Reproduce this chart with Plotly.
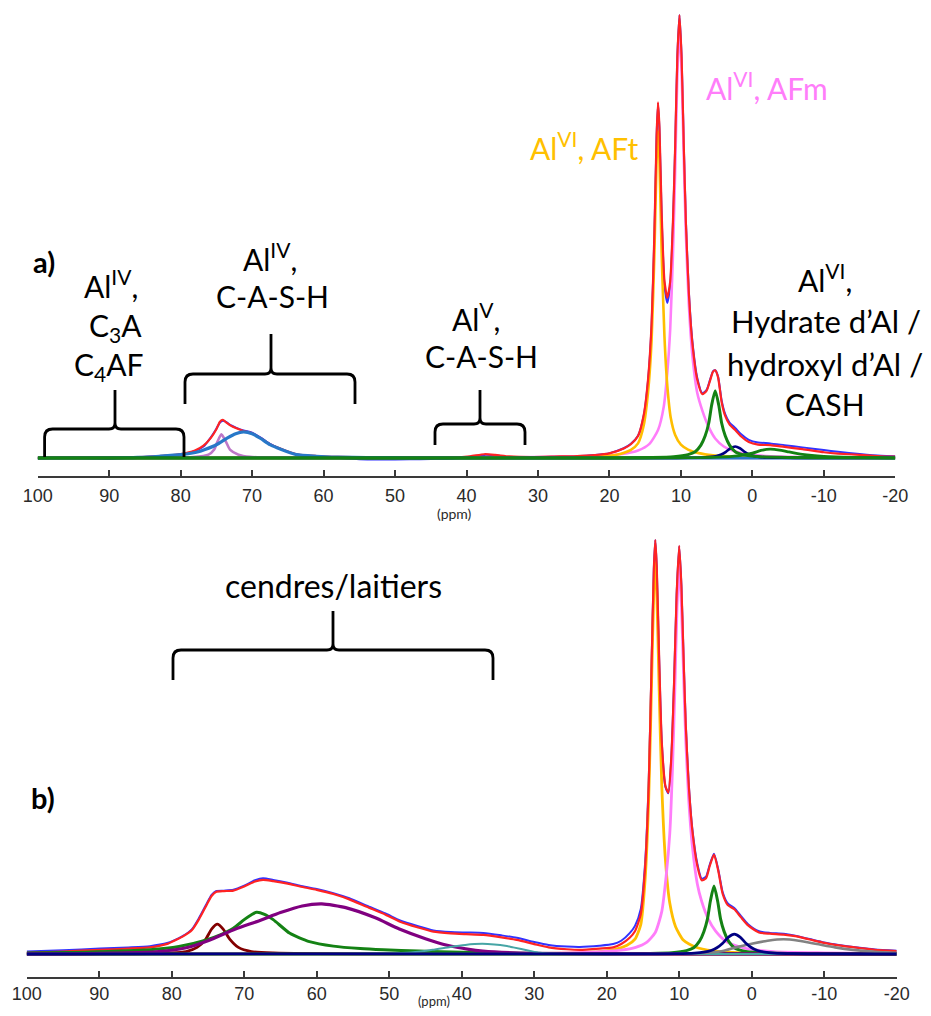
import plotly.graph_objects as go

# ---------------- Panel a) data (ppm, intensity) ----------------
A_RED_PPM = [100, 90, 86, 83, 80, 78, 76.8, 75.8, 75.0, 74.5, 74.1, 73.6, 73.0, 72.2, 71.2, 70, 68.8, 67.5, 65.9, 63.8, 61, 58, 54, 48, 42, 39.5, 37.5, 36, 34, 31, 27, 25, 22, 20, 18, 17, 16, 15.2, 14.6, 14.1, 13.7, 13.4, 13.2, 13.0, 12.7, 12.3, 11.9, 11.5, 11.1, 10.8, 10.5, 10.2, 9.9, 9.6, 9.3, 8.9, 8.4, 7.7, 7.0, 6.4, 5.9, 5.5, 5.2, 4.8, 4.3, 3.8, 3.2, 2.4, 1.6, 0.5, -0.8, -2.5, -4.5, -7, -10, -12, -15, -18, -20]
A_RED_INT = [0.1, 0.15, 0.2, 0.45, 0.9, 1.7, 2.8, 4.5, 6.5, 8.2, 8.6, 8.0, 7.3, 6.7, 6.1, 5.6, 4.5, 3.1, 2.0, 0.85, 0.45, 0.25, 0.15, 0.1, 0.15, 0.4, 0.85, 0.7, 0.35, 0.2, 0.35, 0.4, 0.65, 1.05, 2.15, 3.1, 4.95, 9.7, 17.7, 30.3, 51.3, 72.9, 80.3, 74.6, 55.8, 40.0, 36.2, 39.8, 53.9, 70.5, 90.4, 100, 90.3, 70.7, 53.1, 37.6, 26.0, 17.6, 14.4, 15.2, 17.6, 19.5, 19.8, 18.2, 12.6, 9.5, 7.6, 6.3, 4.9, 3.6, 3.0, 2.9, 2.5, 2.0, 1.3, 1.0, 0.7, 0.4, 0.3]

A_EXP_PPM = [100, 95, 90, 86, 83, 80, 78, 76.8, 75.8, 75.0, 74.5, 74.1, 73.6, 73.0, 72.2, 71.2, 70, 68.8, 67.5, 65.9, 63.8, 61, 58, 55, 52, 48, 45, 42, 39.5, 37.5, 36, 34, 31, 27, 25, 22, 20, 18, 17, 16, 15.2, 14.6, 14.1, 13.7, 13.4, 13.2, 13.0, 12.7, 12.3, 11.9, 11.5, 11.1, 10.8, 10.5, 10.2, 9.9, 9.6, 9.3, 8.9, 8.4, 7.7, 7.0, 6.4, 5.9, 5.5, 5.2, 4.8, 4.3, 3.8, 3.2, 2.4, 1.6, 0.5, -0.8, -2.5, -4.5, -7, -10, -12, -15, -18, -20]
A_EXP_INT = [-0.1, 0.1, -0.2, 0.2, 0.4, 0.8, 1.6, 2.6, 4.6, 6.6, 8.0, 8.4, 8.1, 7.4, 6.8, 6.2, 5.7, 4.6, 3.2, 2.0, 0.8, 0.35, 0.0, -0.3, -0.35, -0.3, -0.2, -0.1, 0.3, 0.7, 0.6, 0.2, 0.1, 0.3, 0.4, 0.7, 1.1, 2.2, 3.2, 5.0, 9.6, 17.5, 30, 51, 72.5, 80, 74, 55, 39, 35, 39, 53.5, 70.5, 90.5, 100, 90.5, 71, 53.5, 38, 26.5, 18, 14.6, 15.4, 17.8, 19.6, 19.8, 18.4, 13, 9.9, 8.0, 6.8, 5.4, 4.1, 3.5, 3.3, 2.9, 2.4, 1.8, 1.4, 0.9, 0.5, 0.4]

A_AFM_PPM = [100, 40, 25, 22.2, 18.2, 16.0, 14.4, 13.2, 12.4, 11.9, 11.5, 11.1, 10.8, 10.5, 10.2, 9.9, 9.6, 9.3, 8.9, 8.4, 7.7, 7.0, 6.2, 5.2, 4.0, 2.5, 0.0, -4.0, -10.0, -20.0]
A_AFM_INT = [0, 0.1, 0.3, 0.4, 0.9, 1.7, 3.2, 6.3, 11.6, 19.4, 29, 46.6, 65, 86.3, 97, 87.3, 68, 50.4, 35, 23.3, 14.6, 10.7, 7.3, 4.4, 2.6, 1.5, 0.7, 0.3, 0.15, 0.05]

A_AFT_PPM = [100, 30, 22, 19, 17, 16, 15.2, 14.6, 14.1, 13.7, 13.4, 13.2, 13.0, 12.7, 12.3, 11.9, 11.4, 10.8, 10.0, 9.0, 7.5, 5.5, 2, -10, -20]
A_AFT_INT = [0, 0.05, 0.26, 0.74, 1.85, 3.3, 7.4, 14.8, 26.6, 46.6, 67.3, 74, 67.3, 46.6, 27.4, 16.3, 8.9, 5.2, 3.0, 1.9, 1.1, 0.6, 0.26, 0.05, 0]

A_OH_PPM = [100, 20, 14, 11, 9, 8, 7.2, 6.6, 6.1, 5.7, 5.2, 4.7, 4.3, 3.8, 3.2, 2.4, 1.2, -1, -5, -12, -20]
A_OH_INT = [0, 0.02, 0.12, 0.3, 0.76, 1.4, 2.9, 5.0, 7.9, 11.9, 15.2, 11.9, 7.9, 5.0, 2.9, 1.4, 0.7, 0.3, 0.12, 0.04, 0]

A_NAVY_PPM = [100, 15, 12.4, 8.9, 6.9, 5.8, 5.0, 4.35, 3.7, 3.05, 2.4, 1.75, 1.1, 0.45, -0.2, -1.0, -2.1, -4.1, -7.6, -20]
A_NAVY_INT = [0, 0.01, 0.02, 0.05, 0.12, 0.25, 0.46, 0.8, 1.4, 2.2, 2.6, 2.2, 1.4, 0.8, 0.46, 0.25, 0.12, 0.05, 0.02, 0]

A_G2_PPM = [100, 15, 5, 2, 0, -1.2, -2.5, -3.8, -5, -7, -10, -14, -20]
A_G2_INT = [0, 0, 0.2, 0.5, 1.1, 1.7, 2.0, 1.8, 1.4, 0.8, 0.35, 0.12, 0.04]

A_CASH_PPM = [100, 90, 86, 83, 80, 77.5, 76.6, 75, 73.5, 72.3, 71.2, 70, 68.8, 67.5, 65.9, 63.8, 61, 58, 54, 48, 40, -20]
A_CASH_INT = [0, 0.05, 0.15, 0.4, 0.75, 1.4, 1.9, 3.0, 4.5, 5.5, 5.9, 5.5, 4.4, 3.0, 1.9, 0.75, 0.4, 0.2, 0.1, 0.04, 0, 0]

A_C3A_PPM = [100, 82, 78.2, 76.1, 75.3, 74.9, 74.3, 73.7, 73.1, 71.9, 70.3, 67, 60, -20]
A_C3A_INT = [0, 0.05, 0.2, 0.75, 1.9, 3.5, 5.35, 3.8, 1.9, 0.75, 0.25, 0.08, 0.02, 0]

# ---------------- Panel b) data (ppm, intensity) ----------------
B_RED_PPM = [100, 95, 89.9, 86, 83, 80.5, 79.9, 78.5, 77.2, 76.2, 75.2, 74.5, 73.9, 72.8, 71.5, 70, 68.5, 67.4, 66, 64, 62.3, 60, 57.7, 55.5, 53.1, 50.5, 48.5, 46, 43.9, 41.5, 39.4, 37, 34.5, 32.4, 30, 28, 25.5, 23.7, 21, 19.1, 18, 16.8, 16.1, 15.3, 14.7, 14.2, 13.8, 13.5, 13.3, 13.1, 12.8, 12.4, 11.9, 11.5, 11.1, 10.7, 10.35, 10.0, 9.7, 9.4, 9.1, 8.7, 8.2, 7.5, 6.9, 6.3, 5.8, 5.2, 4.6, 4.0, 3.3, 2.4, 1.5, 0.5, -1, -2.5, -4.4, -6, -8, -10, -12, -14.9, -17, -20]
B_RED_INT = [0.3, 0.6, 1.0, 1.3, 1.6, 2.5, 3.0, 4.2, 5.8, 8.5, 11.8, 14.0, 15.0, 15.2, 15.3, 16.3, 17.5, 17.9, 17.6, 17.0, 16.3, 15.5, 14.5, 13.2, 11.4, 9.5, 7.8, 6.4, 5.4, 5.0, 4.8, 4.6, 4.0, 3.4, 2.4, 1.6, 1.15, 1.0, 1.3, 1.6, 2.4, 4.0, 5.5, 9.6, 20.9, 41, 70.5, 92.8, 100, 93.6, 73.8, 51.1, 40.6, 39.0, 47.1, 65.9, 86.9, 98.6, 89, 71.7, 55.4, 41.2, 30, 21.3, 17.8, 18.3, 21.2, 24.0, 20.0, 14.5, 11.8, 10.8, 8.9, 6.9, 5.2, 4.9, 4.7, 4.3, 3.5, 2.7, 2.1, 1.45, 1.0, 0.7]

B_EXP_PPM = B_RED_PPM
B_EXP_INT = [0.6, 0.9, 1.3, 1.6, 1.9, 2.7, 3.1, 4.3, 6.0, 8.8, 12.1, 14.3, 15.2, 15.3, 15.5, 16.5, 17.8, 18.3, 17.9, 17.2, 16.5, 15.7, 14.7, 13.5, 11.7, 9.8, 8.1, 6.7, 5.7, 5.3, 5.2, 5.1, 4.5, 3.9, 2.9, 2.2, 1.8, 1.7, 2.0, 2.4, 3.2, 5.1, 6.8, 10.9, 22, 42, 71, 93, 100, 93.5, 73.5, 51, 40.4, 38.8, 47, 66, 87, 98.5, 89.2, 72, 55.8, 41.6, 30.4, 21.8, 18.2, 18.7, 21.5, 24.2, 20.3, 14.9, 12.2, 11.1, 9.2, 7.2, 5.5, 5.1, 4.9, 4.4, 3.6, 2.8, 2.2, 1.5, 1.1, 0.8]

B_AFT_PPM = [100, 30, 25.3, 21.3, 18.8, 17.2, 16.1, 15.3, 14.7, 14.2, 13.8, 13.5, 13.3, 13.1, 12.8, 12.4, 11.9, 11.3, 10.5, 9.4, 7.8, 5.3, 1.3, -10, -20]
B_AFT_INT = [0, 0.1, 0.2, 0.5, 1.1, 2.1, 3.6, 7.1, 18, 37.8, 66.2, 87.9, 94.5, 87.9, 66.2, 40.6, 22.7, 12.3, 6.6, 3.3, 1.7, 0.76, 0.28, 0.05, 0]

B_AFM_PPM = [100, 30, 22, 18, 16, 14.5, 13.3, 12.4, 11.8, 11.3, 10.9, 10.6, 10.3, 10.0, 9.7, 9.4, 9.1, 8.7, 8.2, 7.5, 6.9, 6.0, 5.0, 3.5, 1.0, -3, -10, -20]
B_AFM_INT = [0, 0.19, 0.47, 0.94, 1.6, 2.8, 5.2, 10.3, 18.8, 29.1, 46.1, 63.9, 83.7, 94, 84.6, 67.7, 51.7, 37.6, 26.3, 16.9, 12.7, 8.5, 5.6, 3.0, 1.4, 0.56, 0.28, 0.1]

B_OH_PPM = A_OH_PPM
B_OH_INT = [0, 0.02, 0.13, 0.32, 0.82, 1.5, 3.1, 5.4, 8.5, 12.8, 16.4, 12.8, 8.5, 5.4, 3.1, 1.5, 0.75, 0.32, 0.13, 0.04, 0]

B_NAVY_PPM = [100, 15, 10.4, 7.9, 6.6, 5.6, 4.8, 4.0, 3.2, 2.4, 1.6, 0.8, 0, -0.8, -1.8, -3.1, -5.6, -9.6, -20]
B_NAVY_INT = [0, 0.02, 0.08, 0.22, 0.45, 0.85, 1.5, 2.6, 4.1, 4.8, 4.1, 2.6, 1.5, 0.85, 0.45, 0.22, 0.08, 0.03, 0]

B_GREY_PPM = [100, 15, 10, 6, 4, 2.2, 0, -2.2, -4.4, -6.5, -9, -11.5, -14, -17, -20]
B_GREY_INT = [0, 0, 0.1, 0.3, 0.7, 1.6, 2.5, 3.2, 3.55, 3.2, 2.4, 1.6, 1.0, 0.55, 0.3]

B_DRED_PPM = [100, 85, 80, 78, 76.5, 75.3, 74.5, 73.7, 72.9, 72.0, 70.8, 69, 66, 60, 50, -20]
B_DRED_INT = [0, 0.02, 0.25, 0.6, 1.6, 3.6, 6.0, 7.2, 6.0, 3.6, 1.6, 0.6, 0.25, 0.08, 0.02, 0]

B_GRN_PPM = [100, 92, 83, 79, 75.2, 73.3, 71.5, 70, 69, 68.3, 67.2, 66, 63.7, 61, 57.7, 54, 50.8, 46, 40, 32, 20, -20]
B_GRN_INT = [0.25, 0.45, 1.0, 1.8, 3.4, 4.6, 6.2, 8.3, 9.5, 10.1, 9.6, 8.3, 5.0, 3.0, 1.9, 1.3, 1.0, 0.7, 0.4, 0.2, 0.07, 0]

B_PUR_PPM = [100, 95, 88, 82.2, 78, 75, 71.2, 68, 65, 62, 59.3, 56, 52, 48.6, 45, 42, 39, 37.1, 33, 28, 20, -20]
B_PUR_INT = [0.02, 0.05, 0.2, 0.5, 1.5, 3.2, 6.05, 8.0, 10.0, 11.6, 12.1, 11.2, 8.8, 6.05, 3.7, 2.1, 1.1, 0.7, 0.3, 0.12, 0.04, 0]

B_TEAL_PPM = [100, 60, 50, 47, 44, 41.6, 39.5, 37.2, 35.5, 34, 32.9, 30.7, 29.2, 27, 22, -20]
B_TEAL_INT = [0, 0.02, 0.1, 0.35, 1.0, 1.7, 2.2, 2.45, 2.3, 2.0, 1.6, 0.8, 0.3, 0.1, 0.02, 0]

TICK_VALS = [100, 90, 80, 70, 60, 50, 40, 30, 20, 10, 0, -10, -20]
TICK_TEXT = ["100", "90", "80", "70", "60", "50", "40", "30", "20", "10", "0", "-10", "-20"]

# ---------------- Figure ----------------
# The page body has an 8 px margin, so the figure is 16 px smaller than the
# window and all reference pixel positions are shifted by 8 px.
OFF = 8
W, H = 931 - 2 * OFF, 1016 - 2 * OFF


def X(px):
    return (px - OFF) / W


def Y(py):
    return 1 - (py - OFF) / H


fig = go.Figure()


def add(xs, ys, color, width, axis, smoothing=0.6):
    assert len(xs) == len(ys)
    fig.add_trace(go.Scatter(
        x=xs, y=ys, mode="lines", xaxis="x" if axis == 1 else "x2",
        yaxis="y" if axis == 1 else "y2", hoverinfo="skip", showlegend=False,
        line=dict(color=color, width=width, shape="spline", smoothing=smoothing)))


EXP = "rgb(50,50,255)"
RED = "rgb(255,35,35)"
PINK = "rgb(255,125,250)"
ORANGE = "rgb(255,190,0)"
GREEN = "rgb(20,130,20)"
NAVY = "rgb(0,0,130)"

# panel a
add(A_EXP_PPM, A_EXP_INT, EXP, 2.0, 1)
add(A_AFM_PPM, A_AFM_INT, PINK, 2.6, 1)
add(A_AFT_PPM, A_AFT_INT, ORANGE, 2.6, 1)
add(A_RED_PPM, A_RED_INT, RED, 2.2, 1)
add(A_C3A_PPM, A_C3A_INT, "rgb(190,120,200)", 2.6, 1)
add(A_CASH_PPM, A_CASH_INT, "rgb(40,120,200)", 3.2, 1)
add(A_NAVY_PPM, A_NAVY_INT, NAVY, 2.6, 1)
add(A_G2_PPM, A_G2_INT, GREEN, 2.8, 1)
add(A_OH_PPM, A_OH_INT, GREEN, 3.0, 1)

# panel b
add(B_EXP_PPM, B_EXP_INT, EXP, 2.0, 2)
add(B_AFT_PPM, B_AFT_INT, ORANGE, 2.8, 2)
add(B_AFM_PPM, B_AFM_INT, PINK, 2.8, 2)
add(B_RED_PPM, B_RED_INT, RED, 2.2, 2)
add(B_DRED_PPM, B_DRED_INT, "rgb(130,0,0)", 2.8, 2)
add(B_GRN_PPM, B_GRN_INT, GREEN, 3.0, 2)
add(B_OH_PPM, B_OH_INT, GREEN, 3.0, 2)
add(B_PUR_PPM, B_PUR_INT, "rgb(128,0,128)", 3.2, 2)
add(B_TEAL_PPM, B_TEAL_INT, "rgb(70,165,165)", 2.0, 2)
add(B_GREY_PPM, B_GREY_INT, "rgb(130,130,130)", 2.6, 2)
add(B_NAVY_PPM, B_NAVY_INT, NAVY, 2.8, 2)

axis_common = dict(
    range=[100, -20], showgrid=False, zeroline=False, showline=True,
    linecolor="#3a3a3a", linewidth=1.5, ticks="inside", ticklen=6,
    tickwidth=1.5, tickcolor="#3a3a3a", tickmode="array",
    tickvals=TICK_VALS, ticktext=TICK_TEXT,
    tickfont=dict(family="Liberation Sans, Arial", size=18, color="#2a2a2a"),
)

fig.update_layout(
    width=W, height=H, autosize=False,
    margin=dict(l=0, r=0, t=0, b=0, pad=0, autoexpand=False),
    paper_bgcolor="white", plot_bgcolor="rgba(0,0,0,0)",
    xaxis=dict(domain=[X(37.7), X(895.3)], anchor="y", ticklabelstandoff=3, **axis_common),
    yaxis=dict(domain=[Y(476), Y(10)], range=[-(476 - 458) / 4.43, (458 - 10) / 4.43],
               visible=False, anchor="x"),
    xaxis2=dict(domain=[X(26.7), X(896.7)], anchor="y2", ticklabelstandoff=0, **axis_common),
    yaxis2=dict(domain=[Y(977), Y(530)], range=[-(977 - 954) / 4.14, (954 - 530) / 4.14],
                visible=False, anchor="x2"),
)

LBL = "Lato, Calibri, Carlito, sans-serif"


def text(s, px, py, size=30, color="#000000", bold=False):
    fig.add_annotation(
        x=X(px), y=Y(py), xref="paper", yref="paper", text=("<b>%s</b>" % s) if bold else s,
        showarrow=False, xanchor="center", yanchor="middle",
        font=dict(family=LBL, size=size, color=color))


text("a)", 44, 261, size=29, bold=True)
text("Al<sup>IV</sup>,", 111, 284)
text("C<sub>3</sub>A", 115, 327)
text("C<sub>4</sub>AF", 109, 366)
text("Al<sup>IV</sup>,", 270, 257)
text("C-A-S-H", 272, 296)
text("Al<sup>V</sup>,", 476, 317)
text("C-A-S-H", 481, 356)
text("Al<sup>VI</sup>, AFm", 767, 86, color="rgb(255,125,250)")
text("Al<sup>VI</sup>, AFt", 584, 146, color="rgb(255,192,0)")
text("Al<sup>VI</sup>,", 825, 278)
text("Hydrate d’Al /", 826, 321, size=31)
text("hydroxyl d’Al /", 825, 364, size=31)
text("CASH", 825, 404)
text("cendres/laitiers", 333, 585, size=32)
text("b)", 43, 797, size=29, bold=True)
text("(ppm)", 454, 513, size=14, color="#2a2a2a")
text("(ppm)", 434, 1001, size=13, color="#2a2a2a")


def brace(x1, x2, xm, yb, ye, ys, r=8, r2=6):
    p = (f"M {X(x1)},{Y(ye)} L {X(x1)},{Y(yb + r)} Q {X(x1)},{Y(yb)} {X(x1 + r)},{Y(yb)} "
         f"L {X(xm - r2)},{Y(yb)} Q {X(xm)},{Y(yb)} {X(xm)},{Y(yb - r2)} L {X(xm)},{Y(ys)} "
         f"M {X(xm)},{Y(yb - r2)} Q {X(xm)},{Y(yb)} {X(xm + r2)},{Y(yb)} "
         f"L {X(x2 - r)},{Y(yb)} Q {X(x2)},{Y(yb)} {X(x2)},{Y(yb + r)} L {X(x2)},{Y(ye)}")
    fig.add_shape(type="path", path=p, xref="paper", yref="paper",
                  line=dict(color="black", width=2.8))


brace(44.6, 184, 115, 429, 457, 390)
brace(185, 355, 271, 374, 404, 334)
brace(435, 525, 480, 424, 445, 390)
brace(173, 493, 333, 650, 680, 611)

fig.write_html("out.html")
